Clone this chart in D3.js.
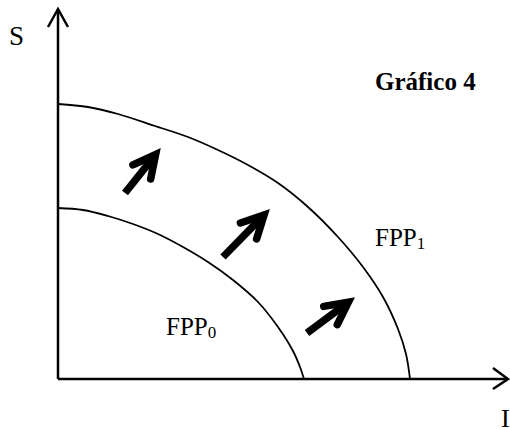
<!DOCTYPE html>
<html>
<head>
<meta charset="utf-8">
<script src="https://cdn.jsdelivr.net/npm/d3@7"></script>
<style>
  html, body { margin: 0; padding: 0; background: #fff; }
  svg { display: block; }
  text { font-family: "Liberation Serif", "DejaVu Serif", serif; fill: #000; }
</style>
</head>
<body>
<div id="chart"></div>
<script>
// ── Data (I on the x axis, S on the y axis, arbitrary units) ────────────────
const fpp0I = [0, 25, 50, 75, 100, 125, 150, 175, 200, 220, 235, 242, 246];
const fpp0S = [171, 169, 163, 155, 145, 132, 117, 99, 77, 52, 28, 12, 0];

const fpp1I = [0, 30, 60, 97, 130, 160, 190, 220, 250, 280, 305, 325, 340, 348, 352];
const fpp1S = [275, 272, 265, 253, 242, 229, 214, 196, 172, 142, 112, 82, 50, 25, 0];

// shift arrows: tail -> tip
const arrowTailI = [67, 165, 249];
const arrowTailS = [186, 122, 46];
const arrowTipI  = [102, 211, 296];
const arrowTipS  = [230, 169, 81];

const W = 510, H = 430;

const svg = d3.select('#chart').append('svg')
  .attr('width', W).attr('height', H);

const x = d3.scaleLinear().domain([0, 450]).range([58, 508]);
const y = d3.scaleLinear().domain([0, 370]).range([379, 9]);

// ── Axes with open chevron heads ──────────────────────────────────────────
const axisG = svg.append('g')
  .attr('fill', 'none').attr('stroke', '#000').attr('stroke-width', 2.5);

axisG.append('line')
  .attr('x1', x(0)).attr('y1', y(0))
  .attr('x2', x(0)).attr('y2', y(370));
axisG.append('path')
  .attr('d', `M${x(0) - 10},${y(370) + 18}L${x(0)},${y(370)}L${x(0) + 10},${y(370) + 18}`);

axisG.append('line')
  .attr('x1', x(0)).attr('y1', y(0))
  .attr('x2', x(450)).attr('y2', y(0));
axisG.append('path')
  .attr('d', `M${x(450) - 15},${y(0) - 11}L${x(450)},${y(0)}L${x(450) - 15},${y(0) + 10}`);

// ── Frontier curves ───────────────────────────────────────────────────────
const line = d3.line()
  .x(d => x(d[0])).y(d => y(d[1]))
  .curve(d3.curveCatmullRom.alpha(0.5));

[[fpp0I, fpp0S], [fpp1I, fpp1S]].forEach(([xs, ys]) => {
  svg.append('path')
    .datum(xs.map((v, i) => [v, ys[i]]))
    .attr('d', line)
    .attr('fill', 'none').attr('stroke', '#000').attr('stroke-width', 1.8);
});

// ── Thick shift arrows ────────────────────────────────────────────────────
const arrowG = svg.append('g')
  .attr('fill', 'none').attr('stroke', '#000').attr('stroke-width', 7.5);

arrowTailI.forEach((_, i) => {
  const x0 = x(arrowTailI[i]), y0 = y(arrowTailS[i]);
  const x1 = x(arrowTipI[i]),  y1 = y(arrowTipS[i]);
  const ang = Math.atan2(y1 - y0, x1 - x0);
  // pull centerline tip back so the mitered point lands on the read tip
  const tx = x1 - 7 * Math.cos(ang), ty = y1 - 7 * Math.sin(ang);
  const arm = 25, spread = 27 * Math.PI / 180;
  const back = ang + Math.PI;
  const ax = tx + arm * Math.cos(back - spread), ay = ty + arm * Math.sin(back - spread);
  const bx = tx + arm * Math.cos(back + spread), by = ty + arm * Math.sin(back + spread);

  arrowG.append('line')
    .attr('x1', x0).attr('y1', y0)
    .attr('x2', tx - 3 * Math.cos(ang)).attr('y2', ty - 3 * Math.sin(ang))
    .attr('stroke-linecap', 'butt');
  arrowG.append('path')
    .attr('d', `M${ax},${ay}L${tx},${ty}L${bx},${by}`)
    .attr('stroke-linejoin', 'miter').attr('stroke-miterlimit', 10)
    .attr('stroke-linecap', 'round');
});

// ── Labels ────────────────────────────────────────────────────────────────
svg.append('text').attr('x', 9).attr('y', 45)
  .attr('font-size', 27).text('S');
svg.append('text').attr('x', 501).attr('y', 427)
  .attr('font-size', 26).text('I');

svg.append('text').attr('x', 375).attr('y', 90)
  .attr('font-size', 25).attr('font-weight', 'bold').text('Gráfico 4');

function fppLabel(px, py, sub) {
  const t = svg.append('text').attr('x', px).attr('y', py).attr('font-size', 25);
  t.append('tspan').text('FPP');
  t.append('tspan').attr('font-size', 17).attr('dy', 3).text(sub);
}
fppLabel(166, 335, '0');
fppLabel(375, 246, '1');
</script>
</body>
</html>
